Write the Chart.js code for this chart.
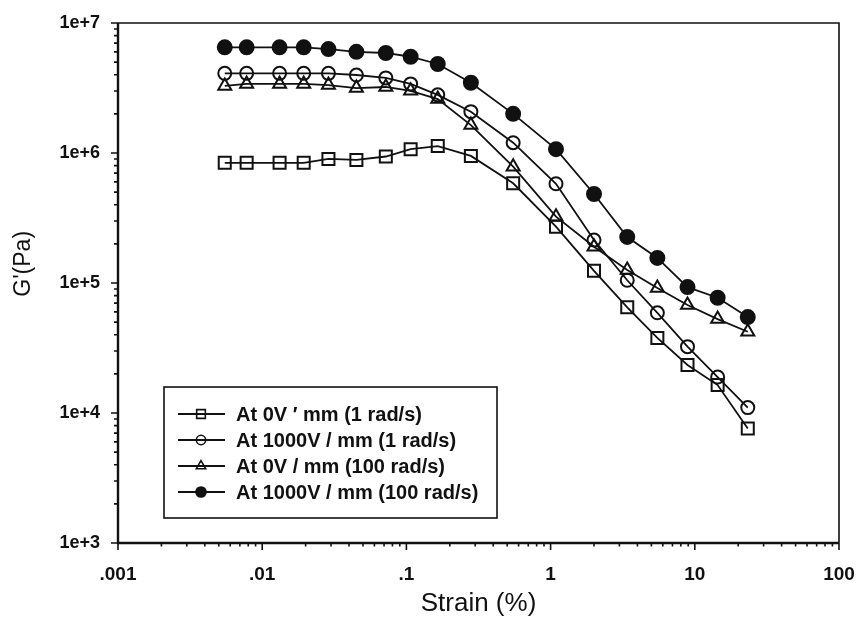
<!DOCTYPE html>
<html>
<head>
<meta charset="utf-8">
<script src="https://cdn.jsdelivr.net/npm/chart.js@4.4.1/dist/chart.umd.min.js"></script>
<style>
  body { margin: 0; background: #fff; }
</style>
</head>
<body>
<canvas id="chart" width="860" height="633"></canvas>
<script>
// strain (%) shared by all four curves
const strain = [0.0055, 0.0078, 0.0132, 0.0194, 0.0288, 0.045, 0.072, 0.107, 0.165, 0.28, 0.55, 1.09, 2.0, 3.4, 5.5, 8.9, 14.4, 23.3];

// G' (Pa)
const g0V1 = [8.4e5, 8.4e5, 8.4e5, 8.4e5, 9.0e5, 8.85e5, 9.4e5, 1.07e6, 1.13e6, 9.5e5, 5.85e5, 2.71e5, 1.24e5, 6.5e4, 3.78e4, 2.34e4, 1.64e4, 7.6e3];
const g1000V1 = [4.1e6, 4.1e6, 4.1e6, 4.1e6, 4.1e6, 3.98e6, 3.78e6, 3.4e6, 2.8e6, 2.08e6, 1.2e6, 5.8e5, 2.14e5, 1.05e5, 5.9e4, 3.24e4, 1.89e4, 1.1e4];
const g0V100 = [3.28e6, 3.4e6, 3.4e6, 3.4e6, 3.33e6, 3.16e6, 3.22e6, 3.01e6, 2.6e6, 1.64e6, 7.85e5, 3.24e5, 1.9e5, 1.26e5, 9.16e4, 6.77e4, 5.28e4, 4.22e4];
const g1000V100 = [6.5e6, 6.5e6, 6.5e6, 6.5e6, 6.3e6, 6.0e6, 5.88e6, 5.5e6, 4.84e6, 3.47e6, 2.0e6, 1.07e6, 4.84e5, 2.26e5, 1.56e5, 9.3e4, 7.7e4, 5.47e4];

const seriesLabels = ['At 0V \u2032 mm (1 rad/s)', 'At 1000V / mm (1 rad/s)', 'At 0V / mm (100 rad/s)', 'At 1000V / mm (100 rad/s)'];

const xTicks = [0.001, 0.01, 0.1, 1, 10, 100];
const xTickLabels = ['.001', '.01', '.1', '1', '10', '100'];
const yTicks = [1e3, 1e4, 1e5, 1e6, 1e7];
const yTickLabels = ['1e+3', '1e+4', '1e+5', '1e+6', '1e+7'];

const FONT = 'Arial, "Liberation Sans", sans-serif';

const toPoints = ys => ys.map((y, i) => ({ x: strain[i], y: y }));

const makeSet = (label, ys, style, radius, filled) => ({
  label: label,
  data: toPoints(ys),
  borderColor: '#111',
  borderWidth: 1.8,
  pointStyle: style,
  pointRadius: radius,
  pointHoverRadius: radius,
  pointBorderColor: '#111',
  pointBorderWidth: 2,
  pointBackgroundColor: filled ? '#111' : 'rgba(0,0,0,0)',
  tension: 0
});

// frame + log ticks (major & minor) drawn on the library's scales
const axisPlugin = {
  id: 'axisTicks',
  afterDraw(chart) {
    const ctx = chart.ctx;
    const a = chart.chartArea;
    const xs = chart.scales.x, ys = chart.scales.y;
    ctx.save();
    ctx.strokeStyle = '#111';
    ctx.lineWidth = 1.6;
    ctx.beginPath();
    ctx.moveTo(a.left, a.top); ctx.lineTo(a.right, a.top); ctx.lineTo(a.right, a.bottom);
    ctx.stroke();
    ctx.lineWidth = 2.4;
    ctx.beginPath();
    ctx.moveTo(a.left, a.top); ctx.lineTo(a.left, a.bottom); ctx.lineTo(a.right, a.bottom);
    ctx.stroke();

    ctx.lineWidth = 1.6;
    ctx.beginPath();
    for (let e = -3; e <= 2; e++) {
      for (let m = 1; m <= 9; m++) {
        const v = m * Math.pow(10, e);
        if (v > 100.0001) break;
        const px = xs.getPixelForValue(v);
        const len = m === 1 ? 7 : 3.5;
        ctx.moveTo(px, a.bottom); ctx.lineTo(px, a.bottom + len);
      }
    }
    for (let e = 3; e <= 7; e++) {
      for (let m = 1; m <= 9; m++) {
        const v = m * Math.pow(10, e);
        if (v > 1.0001e7) break;
        const py = ys.getPixelForValue(v);
        const len = m === 1 ? 7 : 4;
        ctx.moveTo(a.left, py); ctx.lineTo(a.left - len, py);
      }
    }
    ctx.stroke();
    ctx.restore();
  }
};

// boxed legend inside the plot, built from the datasets
const boxLegend = {
  id: 'boxLegend',
  afterDraw(chart) {
    const ctx = chart.ctx;
    const box = { left: 164, top: 387, right: 497, bottom: 518 };
    const rowY = 414, rowGap = 26;
    ctx.save();
    ctx.strokeStyle = '#111';
    ctx.lineWidth = 1.6;
    ctx.strokeRect(box.left, box.top, box.right - box.left, box.bottom - box.top);
    ctx.font = 'bold 20px ' + FONT;
    ctx.textBaseline = 'middle';
    ctx.fillStyle = '#111';
    chart.data.datasets.forEach((ds, i) => {
      const y = rowY + i * rowGap;
      ctx.lineWidth = 1.8;
      ctx.beginPath();
      ctx.moveTo(178, y); ctx.lineTo(225, y);
      ctx.stroke();
      ctx.lineWidth = 1.6;
      ctx.fillStyle = ds.pointBackgroundColor;
      Chart.helpers.drawPoint(ctx, {
        pointStyle: ds.pointStyle,
        radius: ds.pointRadius * 0.72,
        borderWidth: 1.6
      }, 201, y);
      if (ds.pointBackgroundColor !== 'rgba(0,0,0,0)') ctx.fill();
      ctx.fillStyle = '#111';
      ctx.fillText(ds.label, 236, y + 1);
    });
    ctx.restore();
  }
};

new Chart(document.getElementById('chart'), {
  type: 'line',
  data: {
    datasets: [
      makeSet(seriesLabels[0], g0V1, 'rect', 8.5, false),
      makeSet(seriesLabels[1], g1000V1, 'circle', 6.5, false),
      makeSet(seriesLabels[2], g0V100, 'triangle', 7.5, false),
      makeSet(seriesLabels[3], g1000V100, 'circle', 7, true)
    ]
  },
  options: {
    responsive: false,
    animation: false,
    layout: { padding: { top: 23, right: 21, left: 0, bottom: 0 } },
    plugins: {
      legend: { display: false },
      tooltip: { enabled: false }
    },
    scales: {
      x: {
        type: 'logarithmic',
        min: 0.001,
        max: 100,
        afterBuildTicks: s => { s.ticks = xTicks.map(v => ({ value: v })); },
        afterFit: s => { s.height = 90; s.paddingLeft = 0; s.paddingRight = 0; },
        ticks: {
          autoSkip: false,
          maxRotation: 0,
          padding: 20,
          color: '#111',
          font: { family: FONT, size: 19, weight: 'bold' },
          callback: (v) => xTickLabels[xTicks.findIndex(t => Math.abs(Math.log10(t) - Math.log10(v)) < 1e-6)]
        },
        grid: { display: false, drawTicks: false },
        border: { display: false },
        title: {
          display: true,
          text: 'Strain (%)',
          color: '#111',
          font: { family: FONT, size: 26 },
          padding: { top: 0, bottom: 14 }
        }
      },
      y: {
        type: 'logarithmic',
        min: 1e3,
        max: 1e7,
        afterBuildTicks: s => { s.ticks = yTicks.map(v => ({ value: v })); },
        afterFit: s => { s.width = 118; s.paddingTop = 0; s.paddingBottom = 0; },
        ticks: {
          autoSkip: false,
          padding: 18,
          color: '#111',
          font: { family: FONT, size: 18, weight: 'bold' },
          callback: (v) => yTickLabels[yTicks.findIndex(t => Math.abs(Math.log10(t) - Math.log10(v)) < 1e-6)]
        },
        grid: { display: false, drawTicks: false },
        border: { display: false },
        title: {
          display: true,
          text: "      G'(Pa)",
          color: '#111',
          font: { family: FONT, size: 23 },
          padding: { top: 10, bottom: 0 }
        }
      }
    }
  },
  plugins: [axisPlugin, boxLegend]
});
</script>
</body>
</html>
